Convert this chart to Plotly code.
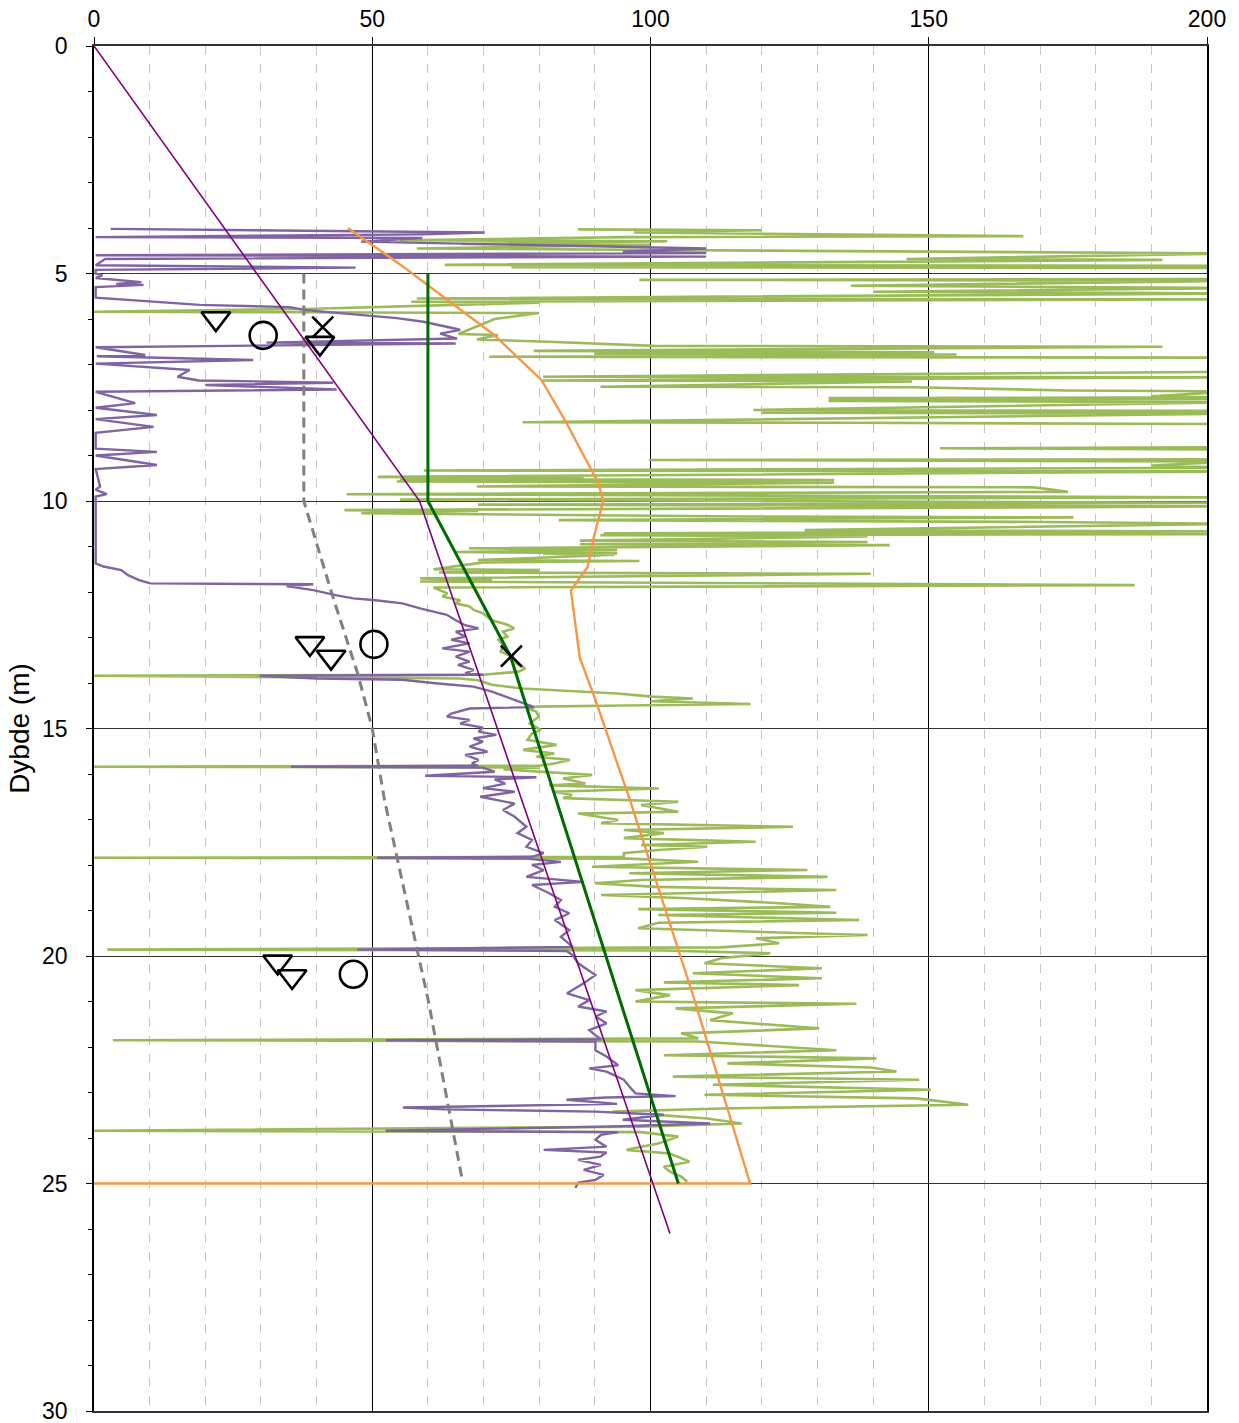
import plotly.graph_objects as go

# ---------------- data ----------------
x_tick_vals = [0, 50, 100, 150, 200]
depth_tick_vals = [0, 5, 10, 15, 20, 25, 30]

# thin purple trend line
trend_x = [0, 58.5, 103.5]
trend_y = [0, 10.0, 26.1]

# thick dark green design line
design_x = [60, 60, 74.8, 105]
design_y = [5, 10, 13.4, 25]

# orange line
orange_x = [45.6, 55.0, 71.9, 76.6, 80.4, 84.6, 88.4, 90.6, 91.5, 89.8, 88.7, 85.7,
            87.3, 89.9, 96.3, 100.1, 108.0, 117.9, 0.0]
orange_y = [4.0, 4.8, 6.35, 6.9, 7.34, 8.22, 9.1, 9.6, 10.0, 10.8, 11.45, 11.97,
            13.45, 14.3, 16.57, 18.0, 21.0, 25.0, 25.0]

# grey dashed line
grey_x = [37.7, 37.7, 42.9, 47.4, 50.0, 52.2, 60.1, 66.3]
grey_y = [5.0, 10.0, 12.1, 13.8, 15.0, 16.57, 21.0, 25.0]

# green trace (x, depth)
green_pts = [
    (87, 4.03), (120, 4.05), (97, 4.10), (167, 4.18), (96, 4.20), (55, 4.27), (103, 4.29),
    (66, 4.35), (100, 4.37), (58, 4.45), (205, 4.56), (146, 4.68), (192, 4.70), (63, 4.81),
    (205, 4.83), (75, 4.86), (205, 4.88), (205, 5.12), (98, 5.14), (205, 5.16), (136, 5.27),
    (165, 5.29), (205, 5.32), (140, 5.40), (205, 5.44), (58, 5.55), (205, 5.57), (57, 5.62),
    (80, 5.64), (38, 5.78), (0, 5.84), (36, 5.85), (80, 5.87), (72, 6.0), (65.5, 6.33),
    (72.6, 6.35), (68.8, 6.45), (81.6, 6.50), (100.6, 6.59), (192, 6.61), (79, 6.70),
    (151, 6.73), (90, 6.76), (155, 6.78), (71, 6.83), (205, 6.85), (205, 7.16), (180, 7.18),
    (80.7, 7.27), (205, 7.28), (80.7, 7.35), (147, 7.37), (91, 7.49), (147, 7.50), (175, 7.57),
    (205, 7.59), (190, 7.70), (205, 7.72), (132, 7.74), (205, 7.76), (132, 7.80), (205, 7.83),
    (118.5, 8.00), (205, 8.02), (120, 8.06), (205, 8.08), (77, 8.27), (136, 8.28), (205, 8.31),
    (205, 8.82), (152, 8.84), (205, 8.87), (205, 9.08), (99.7, 9.10), (205, 9.13), (190, 9.22),
    (205, 9.27), (59.3, 9.33), (205, 9.35), (51, 9.47), (88, 9.50), (55, 9.52), (133, 9.54),
    (54.4, 9.57), (133, 9.60), (68.8, 9.68), (169, 9.70), (175, 9.80), (45.4, 9.85), (139, 9.89),
    (205, 9.92), (55, 9.97), (205, 10.04), (69, 10.08), (205, 10.12), (45, 10.20), (69, 10.22),
    (48, 10.27), (117, 10.34), (176, 10.36), (83.5, 10.42), (171, 10.46), (205, 10.50),
    (127.7, 10.64), (205, 10.67), (91.6, 10.71), (205, 10.73), (91, 10.75), (139, 10.78),
    (87.3, 10.87), (139, 10.90), (87.3, 10.95), (143, 10.97), (67.4, 11.04), (94, 11.08),
    (65, 11.12), (94, 11.15), (80.7, 11.16), (93.5, 11.18), (69, 11.30), (98, 11.32), (70, 11.35),
    (61, 11.50), (80, 11.52), (62, 11.57), (139.6, 11.60), (58.6, 11.70), (71.5, 11.74),
    (58.6, 11.77), (187, 11.85), (61, 11.90), (63.5, 12.03), (62.6, 12.10), (65.8, 12.18),
    (65, 12.25), (67.5, 12.32), (68.3, 12.40), (69.9, 12.47), (71.5, 12.62), (74.3, 12.72),
    (75.5, 12.80), (73.5, 12.87), (74.3, 12.98), (72.7, 13.05), (73.5, 13.16), (73.1, 13.31),
    (75.1, 13.42), (75.9, 13.57), (77.5, 13.68), (76.3, 13.75), (70, 13.82), (0, 13.84),
    (65.8, 13.90), (69, 13.94), (71.5, 14.04), (77, 14.12), (86.7, 14.19), (94, 14.23),
    (100.3, 14.30), (107.6, 14.34), (100, 14.40), (118, 14.46), (91.5, 14.50), (79.5, 14.52),
    (78, 14.56), (79.5, 14.63), (79.9, 14.74), (78.3, 14.89), (80.3, 15.03), (78.7, 15.11),
    (77.9, 15.25), (83.1, 15.36), (77.1, 15.47), (82.7, 15.55), (79.5, 15.62), (85.5, 15.69),
    (82.7, 15.77), (80, 15.82), (0, 15.84), (80, 15.86), (73.6, 15.90), (89.5, 16.02),
    (84.3, 16.10), (88.3, 16.21), (81.8, 16.25), (101.5, 16.32), (82.7, 16.39), (85.9, 16.46),
    (84.3, 16.53), (105, 16.61), (98.3, 16.68), (105, 16.83), (87, 16.87), (94.2, 17.01),
    (91.1, 17.08), (125.6, 17.16), (95.2, 17.23), (102.4, 17.30), (95.2, 17.41), (118.9, 17.49),
    (98.3, 17.56), (110.2, 17.60), (101.4, 17.67), (95.2, 17.74), (95.2, 17.82), (0, 17.84),
    (96.2, 17.86), (108.6, 17.93), (89.5, 18.04), (128.2, 18.11), (96.2, 18.18), (131.8, 18.26),
    (98.3, 18.33), (90, 18.40), (100.9, 18.48), (133.4, 18.55), (91.1, 18.66), (106.6, 18.73),
    (123.1, 18.84), (132.3, 18.92), (97.8, 18.97), (133.4, 19.05), (101.4, 19.10), (137.5, 19.21),
    (101.4, 19.27), (97.8, 19.39), (139, 19.54), (119, 19.61), (123.1, 19.72), (112.7, 19.81),
    (2.4, 19.86), (102.4, 19.88), (121.5, 19.94), (112.7, 20.05), (109.7, 20.16), (130.8, 20.27),
    (107.6, 20.38), (130.8, 20.49), (102.4, 20.58), (126.7, 20.64), (97.3, 20.75), (103.5, 20.86),
    (97.3, 21.00), (137, 21.05), (104.5, 21.15), (114.8, 21.26), (110.7, 21.41), (130.3, 21.59),
    (105.5, 21.70), (108.6, 21.81), (3.4, 21.85), (108.6, 21.88), (133.4, 22.07), (102.4, 22.18),
    (140.6, 22.25), (113.8, 22.36), (139.6, 22.45), (144.2, 22.54), (104, 22.65), (148.3, 22.72),
    (111.2, 22.83), (150.4, 22.94), (109.7, 23.05), (147.8, 23.13), (157.1, 23.27), (112.7, 23.35),
    (93.2, 23.42), (110.2, 23.57), (116.4, 23.68), (98.3, 23.75), (0, 23.84), (98.3, 23.87),
    (105, 23.97), (101.4, 24.12), (95.7, 24.26), (103.5, 24.34), (107, 24.52), (102.4, 24.63),
    (103.5, 24.74), (105.5, 24.85), (106.6, 24.96),
]
green_x = [p[0] for p in green_pts]
green_y = [p[1] for p in green_pts]

# purple trace (x, depth)
purple_pts = [
    (3, 4.02), (11.5, 4.03), (70.2, 4.10), (59, 4.14), (0.3, 4.20), (59, 4.22), (48, 4.30),
    (110, 4.45), (95, 4.52), (110, 4.55), (0.3, 4.60), (110, 4.63), (2, 4.68), (0.3, 4.82),
    (47, 4.87), (0.3, 4.92), (0.3, 5.00), (1.5, 5.04), (0.3, 5.10), (8.5, 5.19), (4, 5.23),
    (8.9, 5.25), (0.3, 5.30), (0.3, 5.53), (19, 5.69), (35.2, 5.74), (37.6, 5.80), (54.4, 5.98),
    (59.2, 6.06), (65.2, 6.22), (65.8, 6.24), (62.2, 6.32), (65.2, 6.43), (31, 6.52), (65, 6.54),
    (0.3, 6.62), (9.2, 6.79), (0.5, 6.82), (28.6, 6.90), (0.3, 6.98), (17.2, 7.12), (15, 7.27),
    (18.8, 7.35), (43, 7.40), (20, 7.45), (43.6, 7.55), (0.3, 7.60), (7.4, 7.85), (0.3, 7.95),
    (11.3, 8.11), (0.3, 8.20), (10.7, 8.37), (0.3, 8.50), (0.3, 8.85), (11.3, 8.92), (0.3, 9.00),
    (11.3, 9.21), (0.3, 9.30), (1.1, 9.68), (0.3, 9.75), (2.3, 9.85), (0.3, 9.90), (0.3, 11.37),
    (1.7, 11.44), (4.9, 11.52), (6.1, 11.63), (8.1, 11.74), (10.1, 11.81), (39.4, 11.83),
    (34.6, 11.87), (39.4, 11.96), (43.4, 12.07), (46.6, 12.14), (50.6, 12.18), (55.4, 12.25),
    (58.6, 12.36), (63.4, 12.50), (65, 12.62), (66.7, 12.73), (69.1, 12.80), (65, 12.87),
    (66.7, 12.98), (64.2, 13.05), (67.5, 13.13), (62.6, 13.24), (67.5, 13.31), (65, 13.42),
    (67.5, 13.53), (65.4, 13.60), (68.2, 13.71), (66.7, 13.79), (70, 13.82), (29.8, 13.84),
    (40, 13.90), (55.4, 13.93), (61.8, 14.01), (68.2, 14.08), (71.5, 14.19), (73.9, 14.30),
    (76.3, 14.41), (77.9, 14.48), (79.1, 14.53), (67.5, 14.56), (64.2, 14.67), (63.4, 14.74),
    (67.5, 14.81), (65.8, 14.89), (69.9, 14.98), (69.1, 15.07), (72.3, 15.14), (68.2, 15.22),
    (69.9, 15.29), (67.5, 15.40), (70.7, 15.51), (66.7, 15.58), (69.1, 15.69), (67.9, 15.77),
    (69, 15.82), (35.4, 15.84), (69.8, 15.86), (72, 15.95), (59.5, 16.04), (79.5, 16.07),
    (72, 16.12), (73.9, 16.21), (69.9, 16.31), (75.6, 16.39), (69.4, 16.50), (75.6, 16.65),
    (73.5, 16.79), (75.6, 16.94), (77.7, 17.16), (76.1, 17.30), (78.7, 17.45), (77.7, 17.60),
    (80.8, 17.74), (78.7, 17.82), (50.9, 17.84), (77.7, 17.86), (83.9, 17.93), (78.7, 18.00),
    (80.8, 18.11), (77.7, 18.26), (88, 18.37), (78.7, 18.44), (81.8, 18.62), (83.9, 18.77),
    (82.8, 18.92), (85.4, 19.06), (82.8, 19.21), (85.4, 19.43), (83.9, 19.58), (86, 19.80),
    (47.3, 19.86), (84.9, 19.89), (86, 19.98), (87, 20.16), (90.1, 20.42), (88, 20.60),
    (87, 20.67), (85, 20.82), (89, 20.97), (87, 21.11), (92.1, 21.22), (90.1, 21.33),
    (92.1, 21.48), (89, 21.63), (90.1, 21.74), (91.1, 21.83), (52.4, 21.85), (90.1, 21.88),
    (90.1, 22.07), (92.1, 22.21), (94.2, 22.40), (89, 22.47), (92.1, 22.54), (95.2, 22.72),
    (96.2, 22.87), (97.3, 23.02), (104.5, 23.08), (92, 23.11), (84.9, 23.16), (94, 23.25),
    (55.5, 23.33), (63, 23.37), (90, 23.42), (102.4, 23.49), (95, 23.60), (110.7, 23.68),
    (92.1, 23.75), (52.4, 23.84), (94.2, 23.87), (91.1, 23.93), (90.1, 24.04), (92.1, 24.19),
    (80.8, 24.26), (92.1, 24.32), (91, 24.41), (87, 24.48), (91.1, 24.59), (88, 24.70),
    (91.6, 24.81), (90.1, 24.92), (87, 24.98), (86.5, 25.10),
]
purple_x = [p[0] for p in purple_pts]
purple_y = [p[1] for p in purple_pts]

# markers
tri_x = [21.9, 40.6, 38.8, 42.6, 33.0, 35.6]
tri_y = [5.99, 6.53, 13.13, 13.43, 20.13, 20.45]
circ_x = [30.4, 50.3, 46.6]
circ_y = [6.36, 13.15, 20.4]
cross_x = [41.1, 75.0]
cross_y = [6.18, 13.41]

FONT = "Liberation Sans, Arial, sans-serif"

fig = go.Figure()
fig.add_trace(go.Scatter(x=green_x, y=green_y, mode="lines",
                         line=dict(color="#9BBB59", width=2.6), hoverinfo="skip"))
fig.add_trace(go.Scatter(x=purple_x, y=purple_y, mode="lines",
                         line=dict(color="#8064A2", width=2.4), hoverinfo="skip"))
fig.add_trace(go.Scatter(x=grey_x, y=grey_y, mode="lines",
                         line=dict(color="#808080", width=3, dash="10px,6px")))
fig.add_trace(go.Scatter(x=orange_x, y=orange_y, mode="lines",
                         line=dict(color="#F79646", width=2.4)))
fig.add_trace(go.Scatter(x=design_x, y=design_y, mode="lines",
                         line=dict(color="#006B00", width=3)))
fig.add_trace(go.Scatter(x=trend_x, y=trend_y, mode="lines",
                         line=dict(color="#800080", width=1.6)))
fig.add_trace(go.Scatter(x=tri_x, y=tri_y, mode="markers",
                         marker=dict(symbol="triangle-down-open", size=25, color="black",
                                     line=dict(width=2.6, color="black"))))
fig.add_trace(go.Scatter(x=circ_x, y=circ_y, mode="markers",
                         marker=dict(symbol="circle-open", size=27, color="black",
                                     line=dict(width=2.6, color="black"))))
fig.add_trace(go.Scatter(x=cross_x, y=cross_y, mode="markers",
                         marker=dict(symbol="x-thin-open", size=21, color="black",
                                     line=dict(width=2.6, color="black"))))

fig.update_layout(
    width=1239, height=1423,
    margin=dict(l=94, r=32, t=46, b=12),
    paper_bgcolor="white", plot_bgcolor="white",
    showlegend=False,
    font=dict(family=FONT, size=23, color="black"),
)
fig.update_xaxes(
    side="top", range=[0, 200], tickvals=x_tick_vals, automargin=False,
    showgrid=True, gridcolor="#000000", gridwidth=1,
    minor=dict(dtick=10, tick0=0, showgrid=True, gridcolor="#C4C4C4",
               griddash="dash", gridwidth=1, ticks=""),
    ticks="outside", ticklen=7, tickcolor="black", tickwidth=1,
    showline=True, linecolor="#333333", linewidth=1.5, mirror=True,
    zeroline=False, tickfont=dict(size=23), ticklabelstandoff=1,
    ticklabeloverflow="allow",
)
fig.update_yaxes(
    range=[30, 0], tickvals=depth_tick_vals, automargin=False,
    showgrid=True, gridcolor="#333333", gridwidth=1.4,
    minor=dict(dtick=1, tick0=0, ticks="outside", ticklen=4, tickcolor="black",
               showgrid=False),
    ticks="outside", ticklen=6, tickcolor="black", tickwidth=1.2,
    showline=True, linecolor="black", linewidth=1.5, mirror=True,
    zeroline=False, tickfont=dict(size=23), ticklabelstandoff=14,
    ticklabeloverflow="allow",
    title=dict(text="Dybde (m)", font=dict(size=28), standoff=4),
)

# remove the default page margin so the figure sits at the window's top-left corner
fig.write_html("out.html", config={"displayModeBar": False},
               post_script="document.body.style.margin='0px';")
